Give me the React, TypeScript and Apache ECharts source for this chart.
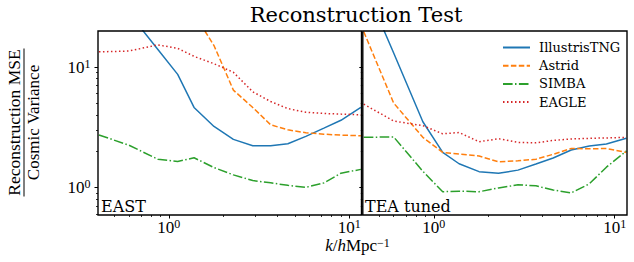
import React, { useEffect, useRef } from 'react';
import * as echarts from 'echarts';

// wavenumbers k [h/Mpc]
const K = [0.41, 0.6, 0.87, 1.12, 1.38, 1.78, 2.28, 2.92, 3.67, 4.57, 5.75, 7.24, 9.0, 11.6];

// EAST panel
const TNG_EAST = [60, 28, 13.9, 8.65, 4.6, 3.2, 2.5, 2.21, 2.21, 2.3, 2.65, 3.1, 3.6, 4.6];
const ASTRID_EAST = [90, 65, 48, 36, 27.5, 15, 6.4, 4.6, 3.3, 3.0, 2.84, 2.76, 2.71, 2.68];
const SIMBA_EAST = [2.72, 2.24, 1.71, 1.64, 1.76, 1.46, 1.27, 1.14, 1.09, 1.04, 1.0, 1.09, 1.31, 1.41];
const EAGLE_EAST = [13.3, 13.5, 15.2, 14.2, 12.2, 10.6, 9.0, 6.2, 5.15, 4.5, 4.2, 4.1, 4.05, 4.0];

// TEA tuned panel
const TNG_TEA = [49, 13.0, 3.5, 1.95, 1.57, 1.35, 1.31, 1.39, 1.56, 1.75, 2.04, 2.2, 2.29, 2.55];
const ASTRID_TEA = [19.5, 5.0, 2.6, 1.95, 1.89, 1.82, 1.63, 1.66, 1.71, 1.88, 2.1, 2.09, 2.1, 1.95];
const SIMBA_TEA = [2.6, 2.62, 1.36, 0.92, 0.93, 0.92, 0.99, 1.05, 1.03, 0.95, 0.9, 1.07, 1.47, 2.0];
const EAGLE_TEA = [4.9, 3.55, 3.25, 2.78, 2.85, 2.39, 2.53, 2.36, 2.34, 2.45, 2.52, 2.55, 2.57, 2.6];

const NAMES = ['IllustrisTNG', 'Astrid', 'SIMBA', 'EAGLE'];
const PANEL_LABELS = ['EAST', 'TEA tuned'];

// axis ticks
const X_MIN = 0.405;
const X_MAX = 11.7;
const Y_MIN = 0.59;
const Y_MAX = 19.8;
const X_MAJOR = [1, 10];
const X_MINOR = [0.5, 0.6, 0.7, 0.8, 0.9, 2, 3, 4, 5, 6, 7, 8, 9];
const Y_MAJOR = [1, 10];
const Y_MINOR = [0.6, 0.7, 0.8, 0.9, 2, 3, 4, 5, 6, 7, 8, 9];

const COLORS = ['#1f77b4', '#ff7f0e', '#2ca02c', '#d62728'];
const DASHES: any[] = ['solid', [5.5, 2.4], [9.6, 2.4, 1.5, 2.4], [1.5, 2.5]];

const MATH = 'Liberation Serif';
const TEXT = 'DejaVu Serif';

const tickRich = {
  b: { fontFamily: MATH, fontSize: 17, lineHeight: 18, verticalAlign: 'bottom', color: '#000' },
  s: { fontFamily: MATH, fontSize: 12, lineHeight: 10, verticalAlign: 'top', color: '#000' },
};
const fmt = (v: number) => `{b|10}{s|${Math.round(Math.log10(v))}}`;

const GRIDS = [
  { left: 98, top: 31, width: 263.5, height: 184 },
  { left: 362.8, top: 31, width: 264.2, height: 184 },
];

function xAxes(gridIndex: number) {
  const base = {
    type: 'log', logBase: 10, gridIndex, min: X_MIN, max: X_MAX, position: 'bottom',
    axisLine: { show: false }, splitLine: { show: false },
  };
  return [
    {
      ...base,
      axisTick: { show: true, customValues: X_MAJOR, length: 3.5, lineStyle: { color: '#000', width: 1 } },
      axisLabel: { show: true, customValues: X_MAJOR, formatter: fmt, rich: tickRich, margin: 3 },
    },
    {
      ...base,
      axisTick: { show: true, customValues: X_MINOR, length: 2, lineStyle: { color: '#000', width: 0.8 } },
      axisLabel: { show: false },
    },
  ];
}

function yAxes(gridIndex: number, labels: boolean) {
  const base = {
    type: 'log', logBase: 10, gridIndex, min: Y_MIN, max: Y_MAX, position: 'left',
    axisLine: { show: false }, splitLine: { show: false },
  };
  return [
    {
      ...base,
      axisTick: { show: true, customValues: Y_MAJOR, length: 3.5, lineStyle: { color: '#000', width: 1 } },
      axisLabel: { show: labels, customValues: Y_MAJOR, formatter: fmt, rich: tickRich, margin: 7.5 },
    },
    {
      ...base,
      axisTick: { show: true, customValues: Y_MINOR, length: 2, lineStyle: { color: '#000', width: 0.8 } },
      axisLabel: { show: false },
    },
  ];
}

function makeSeries(values: number[][], axisIndex: number) {
  return values.map((vals, i) => ({
    type: 'line',
    name: NAMES[i],
    xAxisIndex: axisIndex,
    yAxisIndex: axisIndex,
    data: K.map((k, j) => [k, vals[j]]),
    showSymbol: false,
    symbol: 'none',
    clip: true,
    lineStyle: { color: COLORS[i], width: 1.5, type: DASHES[i], cap: 'butt' },
    itemStyle: { color: COLORS[i] },
    z: 3,
  }));
}

export default function App() {
  const ref = useRef<HTMLDivElement>(null);
  useEffect(() => {
    const chart = echarts.init(ref.current!, null, { renderer: 'svg', width: 634, height: 262 });
    const option: any = {
      animation: false,
      backgroundColor: '#fff',
      grid: GRIDS.map((g) => ({ ...g, show: true, borderColor: '#000', borderWidth: 1.4, backgroundColor: 'transparent', z: 5 })),
      xAxis: [...xAxes(0), ...xAxes(1)],
      yAxis: [...yAxes(0, true), ...yAxes(1, false)],
      legend: {
        data: NAMES,
        orient: 'vertical',
        left: 497,
        top: 35,
        padding: 5,
        itemWidth: 27,
        itemHeight: 10,
        itemGap: 3.2,
        itemStyle: { color: 'rgba(0,0,0,0)', borderColor: 'rgba(0,0,0,0)', borderWidth: 0 },
        textStyle: { fontFamily: TEXT, fontSize: 13, lineHeight: 15, color: '#000', padding: [0, 0, 0, 4] },
      },
      series: [
        ...makeSeries([TNG_EAST, ASTRID_EAST, SIMBA_EAST, EAGLE_EAST], 0),
        ...makeSeries([TNG_TEA, ASTRID_TEA, SIMBA_TEA, EAGLE_TEA], 2),
      ],
      graphic: [
        {
          type: 'text', x: 356, y: 15,
          style: { text: 'Reconstruction Test', fontFamily: TEXT, fontSize: 21, fill: '#000', align: 'center', verticalAlign: 'middle' },
        },
        {
          type: 'text', x: 101, y: 206,
          style: { text: PANEL_LABELS[0], fontFamily: TEXT, fontSize: 16, fill: '#000', align: 'left', verticalAlign: 'middle' },
          z: 10,
        },
        {
          type: 'text', x: 365, y: 206,
          style: { text: PANEL_LABELS[1], fontFamily: TEXT, fontSize: 16, fill: '#000', align: 'left', verticalAlign: 'middle' },
          z: 10,
        },
        {
          type: 'text', x: 357.5, y: 245.5,
          style: {
            text: '{i|k}{n|/}{i|h}{n|Mpc}{s|−1}',
            align: 'center', verticalAlign: 'middle', fill: '#000',
            fontFamily: MATH, fontSize: 17,
            rich: {
              i: { fontFamily: MATH, fontSize: 17, fontStyle: 'italic', lineHeight: 17, verticalAlign: 'bottom', fill: '#000' },
              n: { fontFamily: MATH, fontSize: 17, lineHeight: 17, verticalAlign: 'bottom', fill: '#000' },
              s: { fontFamily: MATH, fontSize: 12, lineHeight: 9, verticalAlign: 'top', fill: '#000' },
            },
          },
        },
        {
          type: 'group', x: 24, y: 122.5, rotation: Math.PI / 2,
          children: [
            {
              type: 'text', x: 0, y: -10.3,
              style: { text: 'Reconstruction MSE', fontFamily: MATH, fontSize: 17.5, fill: '#000', align: 'center', verticalAlign: 'middle' },
            },
            {
              type: 'line', shape: { x1: -74, y1: 0, x2: 74, y2: 0 },
              style: { stroke: '#000', lineWidth: 1 },
            },
            {
              type: 'text', x: 0, y: 9.5,
              style: { text: 'Cosmic Variance', fontFamily: MATH, fontSize: 17, fill: '#000', align: 'center', verticalAlign: 'middle' },
            },
          ],
        },
      ],
    };
    chart.setOption(option);
    return () => chart.dispose();
  }, []);
  return <div ref={ref} style={{ position: 'absolute', left: 0, top: 0, width: 634, height: 262 }} />;
}
